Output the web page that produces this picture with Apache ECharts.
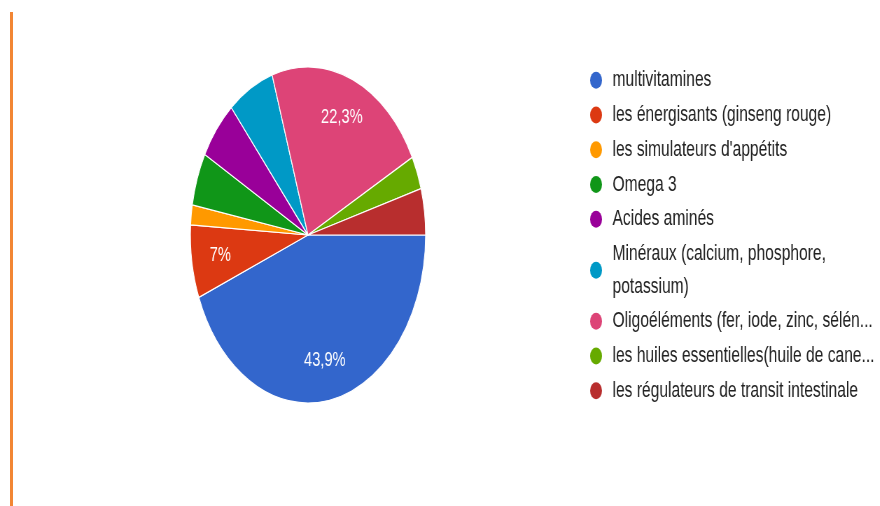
<!DOCTYPE html>
<html>
<head>
<meta charset="utf-8">
<script src="https://cdn.jsdelivr.net/npm/echarts@6/dist/echarts.min.js"></script>
<style>
  html, body { margin: 0; padding: 0; background: #ffffff; }
  #frame { position: relative; width: 880px; height: 506px; overflow: hidden; background: #ffffff; }
  /* the chart is laid out wide and compressed horizontally */
  #chart { position: absolute; left: 0; top: 0; width: 1257px; height: 506px;
           transform: scaleX(0.7); transform-origin: 0 0; }
  #accent { position: absolute; left: 10px; top: 12px; width: 3px; height: 494px;
            background: #F28634; z-index: 2; }
</style>
</head>
<body>
<div id="frame">
  <div id="chart"></div>
  <div id="accent"></div>
</div>
<script>
// Survey answers (number of respondents per supplement type)
const categories = [
  "multivitamines",
  "les énergisants (ginseng rouge)",
  "les simulateurs d'appétits",
  "Omega 3",
  "Acides aminés",
  "Minéraux (calcium, phosphore, potassium)",
  "Oligoéléments (fer, iode, zinc, sélén...",
  "les huiles essentielles(huile de cane...",
  "les régulateurs de transit intestinale"
];
const counts = [69, 11, 3, 8, 9, 10, 35, 5, 7];
const colors = ["#3366CC", "#DC3912", "#FF9900", "#109618", "#990099",
                "#0099C6", "#DD4477", "#66AA00", "#B82E2E"];

const total = counts.reduce((a, b) => a + b, 0);
const slices = categories.map((name, i) => ({
  name: name,
  value: counts[i],
  itemStyle: { color: colors[i] }
}));

function pctText(v) {
  const p = v / total * 100;
  if (p < 7) return '';
  let s = p.toFixed(1);
  if (s.endsWith('.0')) s = s.slice(0, -2);
  return s.replace('.', ',') + '%';
}

const FONT = '"Liberation Sans", Arial, sans-serif';
const R = 168;
const center = [440, 235];
const chart = echarts.init(document.getElementById('chart'), null, { renderer: 'canvas' });
chart.setOption({
  backgroundColor: '#ffffff',
  animation: false,
  legend: {
    orient: 'vertical',
    left: 838,
    top: 59,
    itemGap: 2.5,
    itemWidth: 23,
    itemHeight: 17,
    icon: 'circle',
    symbolKeepAspect: false,
    itemStyle: { borderWidth: 0 },
    data: categories,
    formatter: function (name) {
      return name.replace('phosphore, ', 'phosphore,\n');
    },
    textStyle: {
      fontFamily: FONT,
      fontSize: 22.3,
      color: '#222222',
      lineHeight: 32.3,
      padding: [0, 0, 0, 7]
    }
  },
  series: [
    {
      type: 'pie',
      center: center,
      radius: [0, R],
      startAngle: 0,
      clockwise: true,
      avoidLabelOverlap: false,
      label: { show: false },
      labelLine: { show: false },
      itemStyle: { borderColor: '#ffffff', borderWidth: 1.2 },
      emphasis: { disabled: true },
      data: slices
    },
    {
      // percentage labels placed toward the rim
      type: 'pie',
      center: center,
      radius: [80, R],
      startAngle: 0,
      clockwise: true,
      silent: true,
      avoidLabelOverlap: false,
      itemStyle: { color: 'rgba(0,0,0,0)' },
      emphasis: { disabled: true },
      labelLine: { show: false },
      label: {
        show: true,
        position: 'inside',
        fontFamily: FONT,
        fontSize: 21,
        color: '#ffffff',
        formatter: function (p) { return pctText(p.value); }
      },
      data: counts.map((v, i) => ({ name: categories[i], value: v }))
    }
  ]
});
</script>
</body>
</html>
